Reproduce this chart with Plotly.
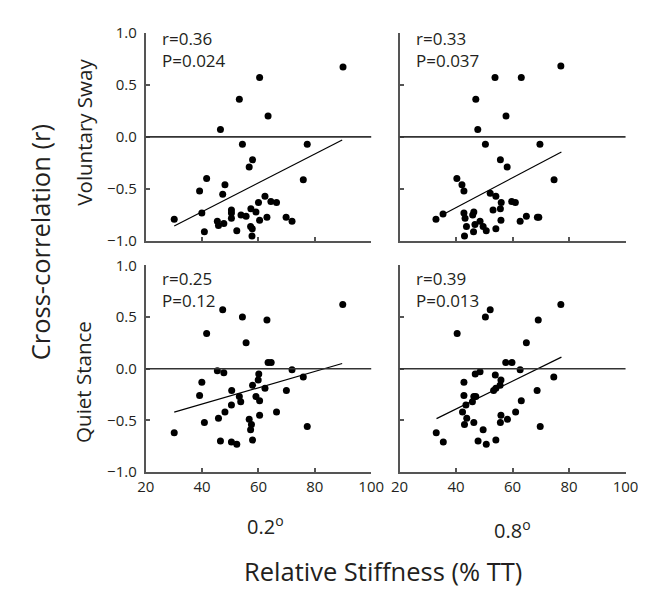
import plotly.graph_objects as go

# ---------------- data ----------------
# Voluntary Sway, 0.2 deg
vs02_x = [90, 60.4, 53.2, 63.4, 46.5, 54.3, 77.3, 57.9, 56.7, 41.6, 75.9, 39.1, 48.1, 47.3,
          62.3, 60.0, 64.4, 66.4, 39.9, 30.1, 40.8, 45.4, 45.8, 47.7, 50.4, 50.4, 50.4, 52.3,
          53.8, 55.6, 57.3, 59.1, 60.4, 63.0, 57.2, 57.8, 57.7, 69.8, 71.9]
vs02_y = [0.67, 0.57, 0.36, 0.20, 0.07, -0.07, -0.07, -0.22, -0.29, -0.40, -0.41, -0.52, -0.46, -0.55,
          -0.57, -0.63, -0.62, -0.63, -0.73, -0.79, -0.91, -0.81, -0.85, -0.83, -0.70, -0.73, -0.78, -0.90,
          -0.75, -0.76, -0.69, -0.72, -0.80, -0.77, -0.86, -0.88, -0.95, -0.77, -0.81]
vs02_fit_x = [30.1, 89.7]
vs02_fit_y = [-0.855, -0.03]

# Voluntary Sway, 0.8 deg
vs08_x = [77.1, 53.8, 63.1, 47.0, 57.7, 47.7, 50.4, 69.7, 55.7, 58.1, 40.3, 74.7, 42.1, 42.8,
          52.1, 54.1, 56.0, 59.7, 61.0, 32.9, 35.4, 42.8, 43.2, 45.9, 46.3, 46.7, 43.7, 43.0,
          46.2, 48.5, 49.6, 50.7, 53.1, 55.7, 55.9, 54.1, 62.7, 64.9, 68.8, 69.3]
vs08_y = [0.68, 0.57, 0.57, 0.36, 0.20, 0.07, -0.07, -0.07, -0.22, -0.29, -0.40, -0.41, -0.46, -0.52,
          -0.54, -0.57, -0.63, -0.62, -0.63, -0.79, -0.74, -0.73, -0.78, -0.75, -0.72, -0.84, -0.86, -0.95,
          -0.91, -0.81, -0.86, -0.90, -0.70, -0.69, -0.80, -0.88, -0.81, -0.76, -0.77, -0.77]
vs08_fit_x = [35.4, 77.3]
vs08_fit_y = [-0.744, -0.145]

# Quiet Stance, 0.2 deg
qs02_x = [89.9, 47.3, 54.3, 63.0, 41.6, 55.6, 63.4, 64.5, 45.4, 47.7, 71.9, 60.1, 59.9, 39.9,
          75.9, 57.9, 62.3, 50.5, 69.9, 39.1, 53.2, 59.1, 53.7, 60.4, 50.4, 48.1, 66.4, 45.8,
          60.4, 40.8, 56.7, 57.5, 57.2, 77.3, 30.1, 46.5, 50.4, 52.3, 57.9]
qs02_y = [0.62, 0.57, 0.50, 0.47, 0.34, 0.25, 0.06, 0.06, -0.02, -0.04, -0.01, -0.05, -0.11, -0.13,
          -0.08, -0.16, -0.19, -0.21, -0.21, -0.26, -0.27, -0.27, -0.32, -0.31, -0.35, -0.42, -0.42, -0.48,
          -0.45, -0.52, -0.49, -0.54, -0.59, -0.56, -0.62, -0.70, -0.71, -0.73, -0.69]
qs02_fit_x = [30.1, 89.7]
qs02_fit_y = [-0.42, 0.05]

# Quiet Stance, 0.8 deg
qs08_x = [77.1, 52.1, 50.4, 69.1, 40.4, 64.9, 57.6, 59.8, 46.8, 48.5, 62.7, 53.9, 55.9, 42.8,
          74.6, 54.1, 55.6, 53.3, 68.7, 42.8, 46.3, 47.0, 45.8, 63.1, 43.5, 42.3, 61.1, 43.8,
          55.9, 43.0, 46.3, 55.7, 58.2, 49.6, 69.8, 33.0, 35.5, 47.8, 50.7, 54.1]
qs08_y = [0.62, 0.57, 0.50, 0.47, 0.34, 0.25, 0.06, 0.06, -0.05, -0.03, -0.01, -0.06, -0.11, -0.13,
          -0.08, -0.19, -0.16, -0.21, -0.21, -0.26, -0.27, -0.27, -0.32, -0.31, -0.35, -0.42, -0.42, -0.48,
          -0.45, -0.54, -0.52, -0.52, -0.49, -0.59, -0.56, -0.62, -0.71, -0.70, -0.73, -0.69]
qs08_fit_x = [33.1, 77.3]
qs08_fit_y = [-0.483, 0.112]

stats_text = ["r=0.36<br>P=0.024", "r=0.33<br>P=0.037", "r=0.25<br>P=0.12", "r=0.39<br>P=0.013"]
y_tickvals = [-1.0, -0.5, 0.0, 0.5, 1.0]
x_tickvals = [20, 40, 60, 80, 100]
row_labels = ["Voluntary Sway", "Quiet Stance"]
col_labels = ["0.2<sup>o</sup>", "0.8<sup>o</sup>"]
y_title = "Cross-correlation (r)"
x_title = "Relative Stiffness (% TT)"

# ---------------- figure ----------------
W, H = 646, 589
FONT = "Open Sans"
TXT = "#231f20"
AX = "#555555"

def px_x(p):
    return p / W

def px_y(p):
    return 1 - p / H

xdoms = [[px_x(133.3), px_x(366.7)], [px_x(396), px_x(630)]]
ydoms = [[px_y(230), px_y(14)], [px_y(469), px_y(255)]]

panels = [
    (vs02_x, vs02_y, vs02_fit_x, vs02_fit_y, 0, 0),
    (vs08_x, vs08_y, vs08_fit_x, vs08_fit_y, 0, 1),
    (qs02_x, qs02_y, qs02_fit_x, qs02_fit_y, 1, 0),
    (qs08_x, qs08_y, qs08_fit_x, qs08_fit_y, 1, 1),
]

fig = go.Figure()
layout = dict(
    width=W, height=H,
    margin=dict(l=0, r=0, t=0, b=0),
    paper_bgcolor="white", plot_bgcolor="white",
    showlegend=False,
    font=dict(family=FONT, color=TXT, size=15),
)
shapes = []
annotations = []
stat_y = [[0.94, 0.73], [0.87, 0.66]]

for i, (xs, ys, fx, fy, r, c) in enumerate(panels):
    n = i + 1
    xa = "x" if n == 1 else f"x{n}"
    ya = "y" if n == 1 else f"y{n}"
    fig.add_trace(go.Scatter(x=fx, y=fy, mode="lines", xaxis=xa, yaxis=ya,
                             line=dict(color="black", width=1.2), hoverinfo="skip"))
    fig.add_trace(go.Scatter(x=xs, y=ys, mode="markers", xaxis=xa, yaxis=ya,
                             marker=dict(color="black", size=7, line=dict(width=0))))
    xkey = "xaxis" if n == 1 else f"xaxis{n}"
    ykey = "yaxis" if n == 1 else f"yaxis{n}"
    layout[xkey] = dict(
        domain=xdoms[c], anchor=ya, range=[20, 100],
        tickvals=x_tickvals, ticks="inside", ticklen=4, tickwidth=1.5, tickcolor=AX,
        showline=True, linecolor=AX, linewidth=2, showgrid=False, zeroline=False,
        showticklabels=(r == 1), tickfont=dict(size=15, family=FONT, color=TXT),
        fixedrange=True,
    )
    layout[ykey] = dict(
        domain=ydoms[r], anchor=xa, range=[-1, 1],
        tickvals=y_tickvals, tickformat=".1f", ticks="inside", ticklen=4, tickwidth=1.5, tickcolor=AX,
        showline=True, linecolor=AX, linewidth=2, showgrid=False, zeroline=False,
        showticklabels=(c == 0), tickfont=dict(size=15, family=FONT, color=TXT),
        ticklabelstandoff=4,
        fixedrange=True,
    )
    shapes.append(dict(type="line", xref=f"{xa} domain", yref=ya, x0=0, x1=1, y0=0, y1=0,
                       line=dict(color="#333333", width=1.6)))
    lines = stats_text[i].split("<br>")
    for k, t in enumerate(lines):
        annotations.append(dict(text=t, xref=xa, yref=ya, x=25.0, y=stat_y[r][k],
                                xanchor="left", yanchor="middle", showarrow=False,
                                font=dict(size=17, family=FONT, color=TXT)))

# row labels
annotations.append(dict(text=row_labels[0], xref="paper", yref="paper", x=px_x(69), y=px_y(117),
                        textangle=-90, showarrow=False, xanchor="center", yanchor="middle",
                        font=dict(size=20.5, family=FONT, color=TXT)))
annotations.append(dict(text=row_labels[1], xref="paper", yref="paper", x=px_x(69), y=px_y(376),
                        textangle=-90, showarrow=False, xanchor="center", yanchor="middle",
                        font=dict(size=20.5, family=FONT, color=TXT)))
annotations.append(dict(text=y_title, xref="paper", yref="paper", x=px_x(24), y=px_y(231),
                        textangle=-90, showarrow=False, xanchor="center", yanchor="middle",
                        font=dict(size=25.5, family=FONT, color=TXT)))
# column labels
annotations.append(dict(text=col_labels[0], xref="paper", yref="paper", x=px_x(257), y=px_y(524),
                        showarrow=False, xanchor="center", yanchor="middle",
                        font=dict(size=20, family=FONT, color=TXT)))
annotations.append(dict(text=col_labels[1], xref="paper", yref="paper", x=px_x(513), y=px_y(528),
                        showarrow=False, xanchor="center", yanchor="middle",
                        font=dict(size=20, family=FONT, color=TXT)))
annotations.append(dict(text=x_title, xref="paper", yref="paper", x=px_x(378.5), y=px_y(571),
                        showarrow=False, xanchor="center", yanchor="middle",
                        font=dict(size=25.5, family=FONT, color=TXT)))

layout["shapes"] = shapes
layout["annotations"] = annotations
fig.update_layout(**layout)
fig.write_html("out.html")
